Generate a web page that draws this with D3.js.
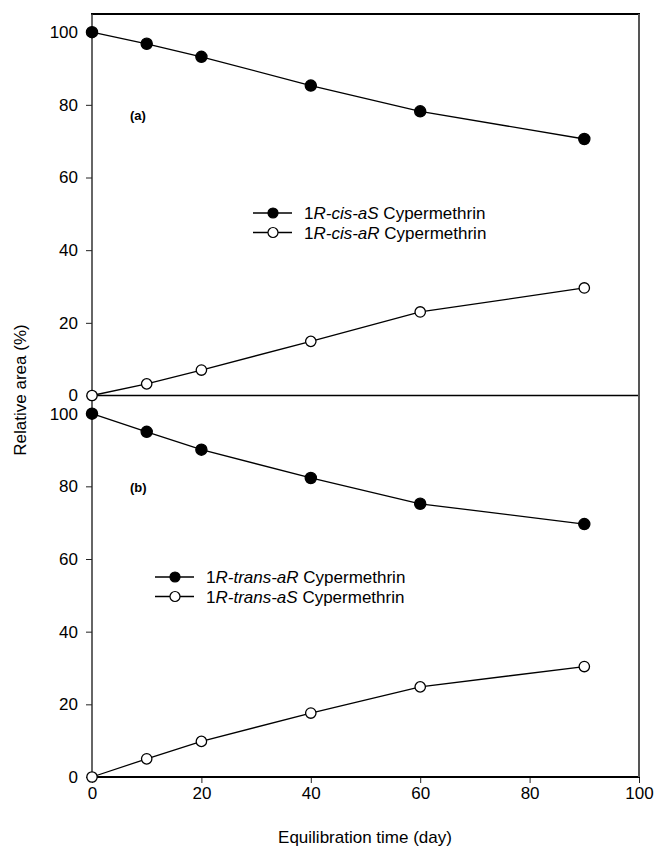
<!DOCTYPE html>
<html>
<head>
<meta charset="utf-8">
<script src="https://cdnjs.cloudflare.com/ajax/libs/d3/7.8.5/d3.min.js"></script>
<style>
body{margin:0;background:#fff;}
text{font-family:"Liberation Sans",Arial,sans-serif;fill:#000;}
</style>
</head>
<body>
<script>
//=======================================================================
// data
var aryDays      = [0, 10, 20, 40, 60, 90];
var aryCisAS     = [100, 96.8, 93.2, 85.3, 78.2, 70.6];
var aryCisAR     = [0, 3.2, 7.0, 14.9, 23.0, 29.6];
var aryTransAR   = [100, 95.0, 90.1, 82.3, 75.2, 69.6];
var aryTransAS   = [0, 5.0, 9.8, 17.6, 24.8, 30.4];
var aryXTicks    = [0, 20, 40, 60, 80, 100];
var aryYTicks    = [0, 20, 40, 60, 80, 100];
var aryTopNames  = [["1", "R-cis-aS", " Cypermethrin"], ["1", "R-cis-aR", " Cypermethrin"]];
var aryBotNames  = [["1", "R-trans-aR", " Cypermethrin"], ["1", "R-trans-aS", " Cypermethrin"]];
var aryPanelTags = ["(a)", "(b)"];
//----------------------------------------------------------------------
var v_Left = 92, v_Right = 639, v_Top = 14, v_Mid = 395.5, v_Bottom = 777;

var v_Svg = d3.select("body").append("svg")
				.attr("width", 655)
				.attr("height", 846);

var x = d3.scaleLinear().domain([0, 100]).range([v_Left, v_Right]);
var yTop = d3.scaleLinear().domain([0, 105]).range([v_Mid, v_Top]);
var yBot = d3.scaleLinear().domain([0, 105]).range([v_Bottom, v_Mid]);

//----------------------------------------------------------------------
function f_Panel(arg_y, arg_Filled, arg_Open, arg_Names, arg_Tag, arg_Leg)
{
	var g = v_Svg.append("g");

	// y axis
	var gAx = g.append("g")
				.attr("transform", "translate(" + v_Left + ",0)")
				.call(d3.axisLeft(arg_y).tickValues(aryYTicks).tickSize(6).tickSizeOuter(0).tickPadding(8));
	gAx.select(".domain").remove();
	gAx.selectAll("line").attr("stroke", "#222");
	gAx.selectAll("text").attr("font-size", 17).attr("font-family", "Liberation Sans, Arial, sans-serif");

	// panel tag
	g.append("text")
		.attr("x", 130).attr("y", arg_Tag.y)
		.attr("font-size", 13).attr("font-weight", "bold")
		.text(arg_Tag.t);

	var line = d3.line()
				.x(function(d, i){ return x(aryDays[i]); })
				.y(function(d){ return arg_y(d); });

	[arg_Filled, arg_Open].forEach(function(s){
		g.append("path")
			.attr("d", line(s))
			.attr("fill", "none")
			.attr("stroke", "#000")
			.attr("stroke-width", 1.3);
	});

	// legend
	arg_Names.forEach(function(nm, i){
		var yy = arg_Leg.y + i * 19.5;
		g.append("line")
			.attr("x1", arg_Leg.x).attr("x2", arg_Leg.x + 39)
			.attr("y1", yy).attr("y2", yy)
			.attr("stroke", "#000").attr("stroke-width", 1.3);
		g.append("circle")
			.attr("cx", arg_Leg.x + 20).attr("cy", yy).attr("r", 5)
			.attr("fill", i == 0 ? "#000" : "#fff")
			.attr("stroke", "#000").attr("stroke-width", 1.2);
		var t = g.append("text")
					.attr("x", arg_Leg.x + 51).attr("y", yy + 6)
					.attr("font-size", 17);
		t.append("tspan").text(nm[0]);
		t.append("tspan").attr("font-style", "italic").text(nm[1]);
		t.append("tspan").text(nm[2]);
	});

	return g;
}
//----------------------------------------------------------------------
function f_Markers(arg_g, arg_y, arg_Data, arg_Fill)
{
	arg_g.selectAll(null)
		.data(arg_Data)
		.enter()
			.append("circle")
			.attr("cx", function(d, i){ return x(aryDays[i]); })
			.attr("cy", function(d){ return arg_y(d); })
			.attr("r", arg_Fill == "#000" ? 5.6 : 5.2)
			.attr("fill", arg_Fill)
			.attr("stroke", "#000")
			.attr("stroke-width", 1.3);
}
//----------------------------------------------------------------------
var gTop = f_Panel(yTop, aryCisAS, aryCisAR, aryTopNames, {t: aryPanelTags[0], y: 120}, {x: 253, y: 213});
var gBot = f_Panel(yBot, aryTransAR, aryTransAS, aryBotNames, {t: aryPanelTags[1], y: 492}, {x: 155, y: 577});

// x axis
var gX = v_Svg.append("g")
			.attr("transform", "translate(0," + v_Bottom + ")")
			.call(d3.axisBottom(x).tickValues(aryXTicks).tickSize(6).tickSizeOuter(0).tickPadding(4));
gX.select(".domain").remove();
gX.selectAll("line").attr("stroke", "#222");
gX.selectAll("text").attr("font-size", 17).attr("font-family", "Liberation Sans, Arial, sans-serif");

// frames
v_Svg.append("line").attr("x1", v_Left - 1).attr("x2", v_Right + 1).attr("y1", v_Top).attr("y2", v_Top).attr("stroke", "#000").attr("stroke-width", 2);
v_Svg.append("line").attr("x1", v_Left).attr("x2", v_Right).attr("y1", v_Mid).attr("y2", v_Mid).attr("stroke", "#000").attr("stroke-width", 1.5);
v_Svg.append("line").attr("x1", v_Left - 1).attr("x2", v_Right + 1).attr("y1", v_Bottom).attr("y2", v_Bottom).attr("stroke", "#000").attr("stroke-width", 2);
v_Svg.append("line").attr("x1", v_Left).attr("x2", v_Left).attr("y1", v_Top).attr("y2", v_Bottom).attr("stroke", "#333").attr("stroke-width", 1.5);
v_Svg.append("line").attr("x1", v_Right).attr("x2", v_Right).attr("y1", v_Top).attr("y2", v_Bottom).attr("stroke", "#555").attr("stroke-width", 2);

// markers on top of frame
f_Markers(gTop, yTop, aryCisAS, "#000");
f_Markers(gTop, yTop, aryCisAR, "#fff");
f_Markers(gBot, yBot, aryTransAR, "#000");
f_Markers(gBot, yBot, aryTransAS, "#fff");
gTop.raise(); gBot.raise();

// axis titles
v_Svg.append("text")
	.attr("transform", "translate(26,390) rotate(-90)")
	.attr("text-anchor", "middle")
	.attr("font-size", 17)
	.text("Relative area (%)");

v_Svg.append("text")
	.attr("x", 365).attr("y", 843)
	.attr("text-anchor", "middle")
	.attr("font-size", 17)
	.text("Equilibration time (day)");
//======================================================================
</script>
</body>
</html>
